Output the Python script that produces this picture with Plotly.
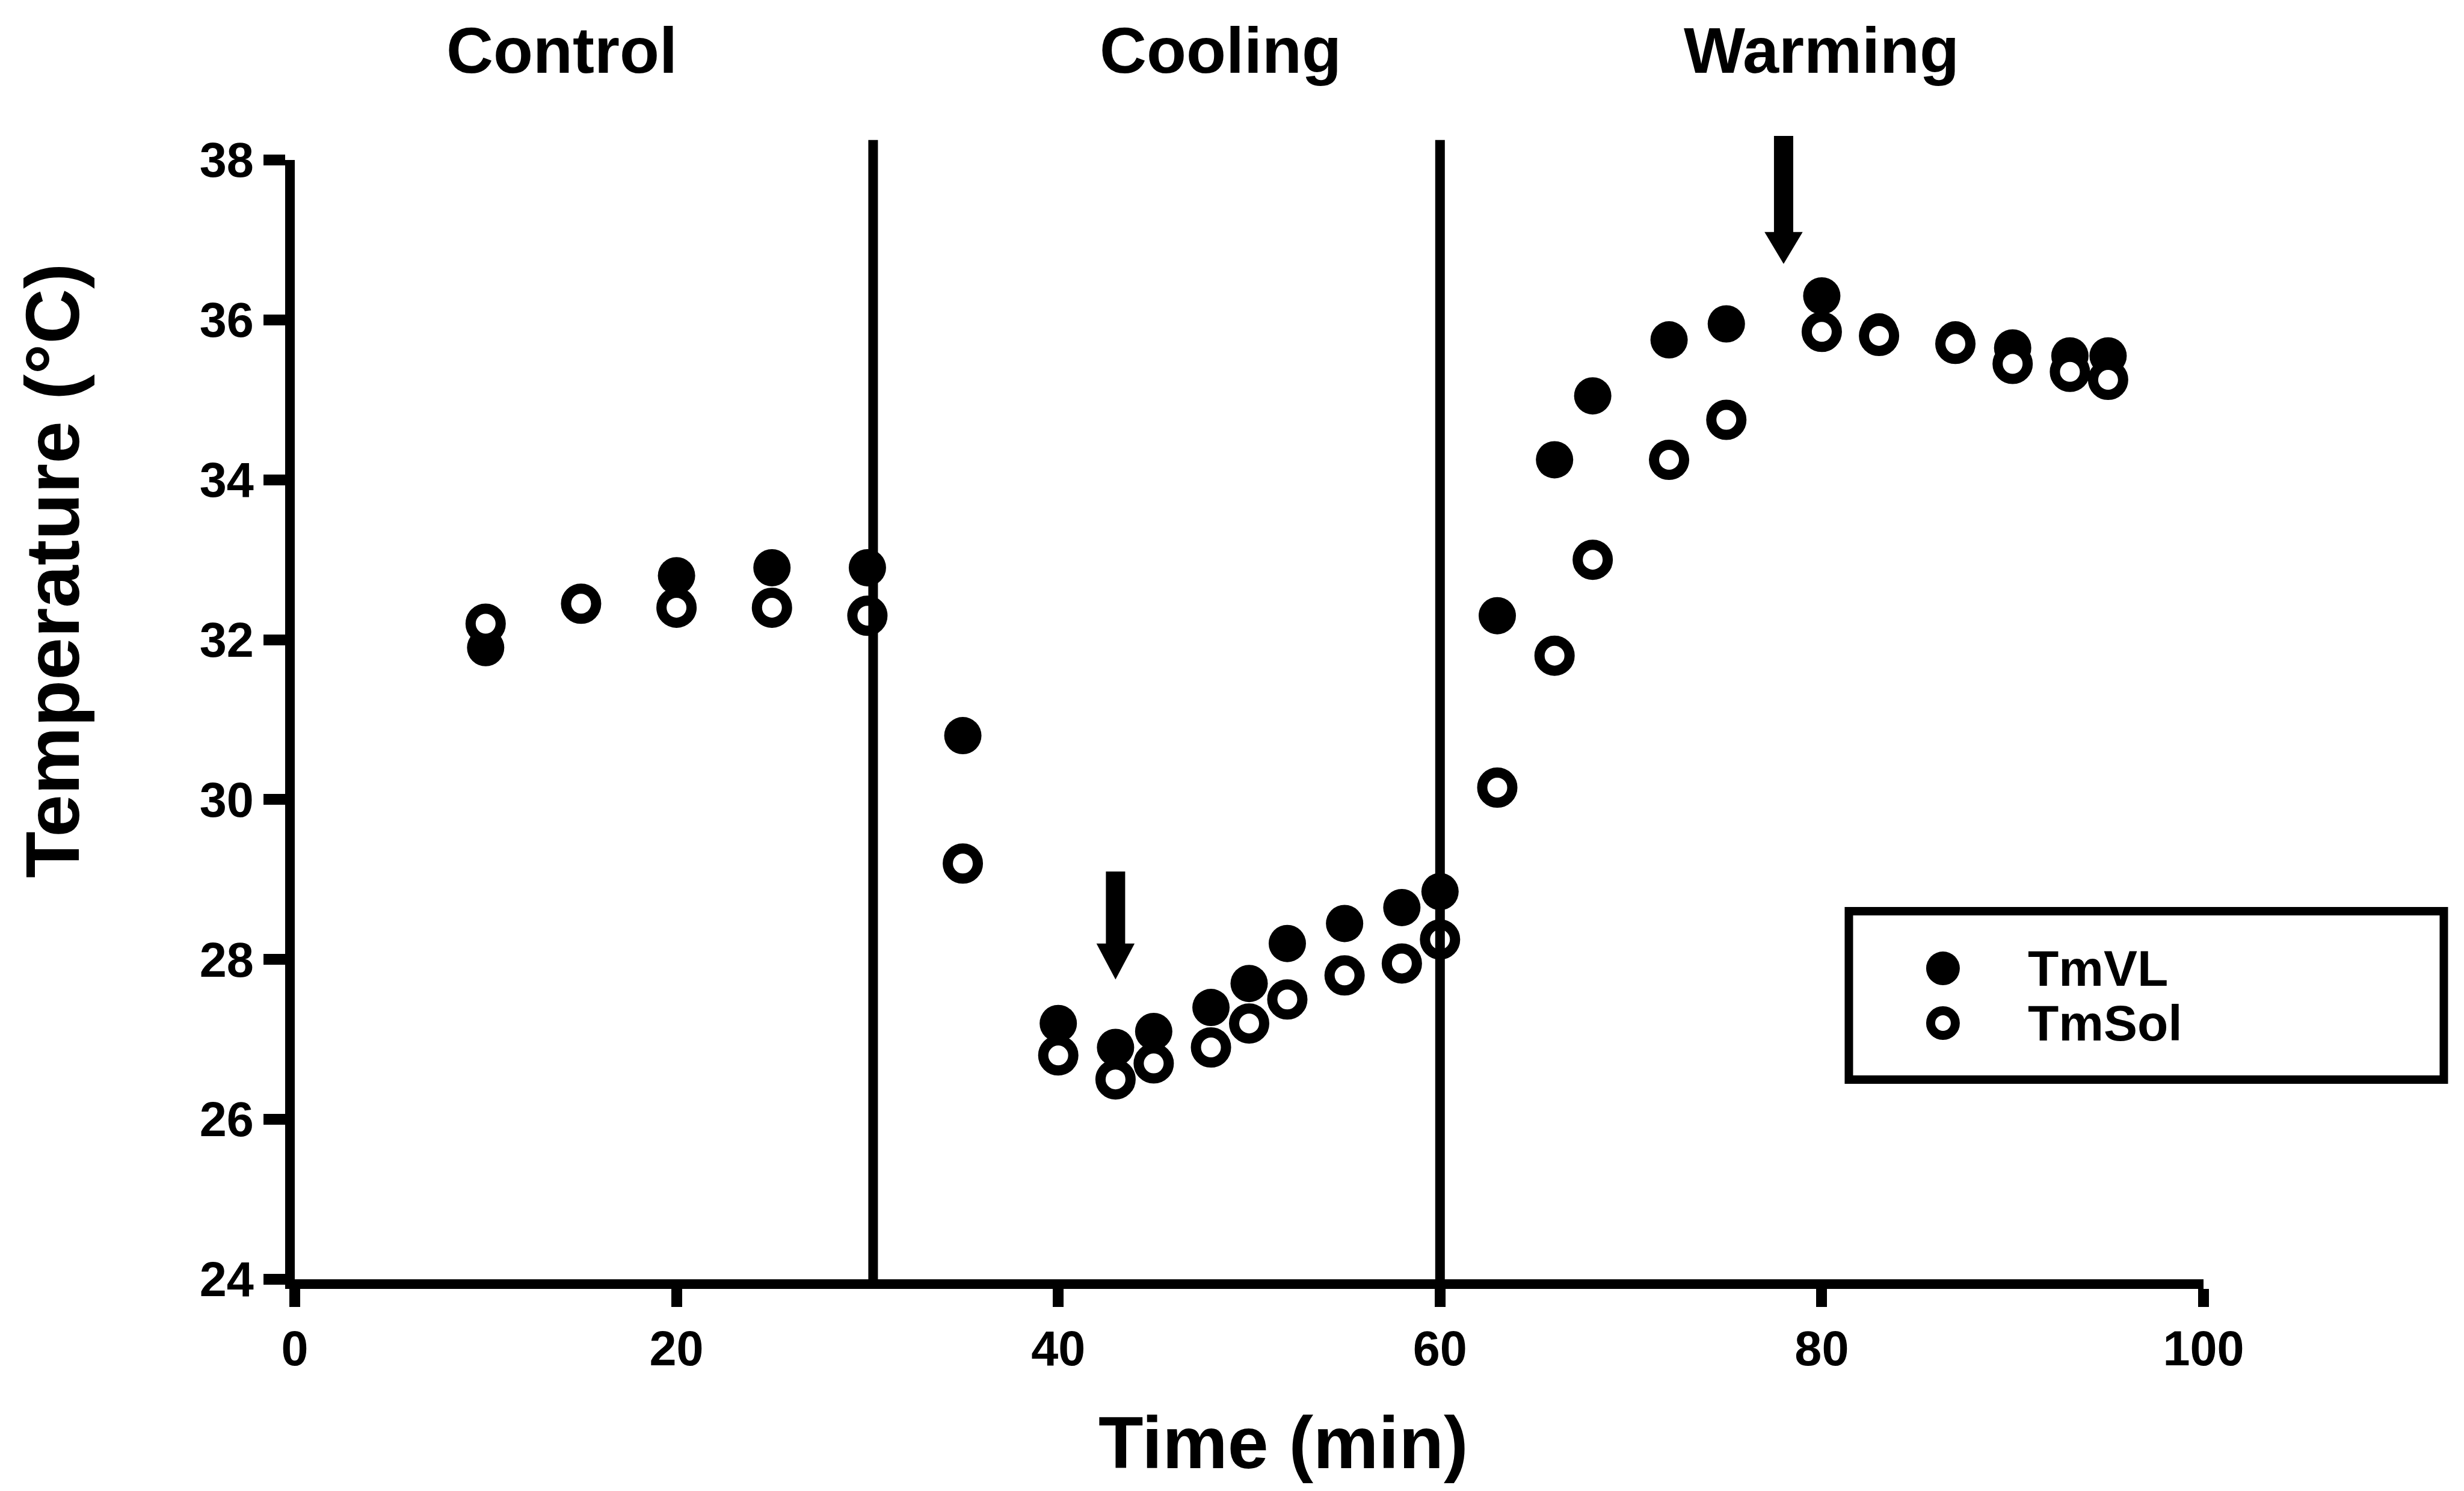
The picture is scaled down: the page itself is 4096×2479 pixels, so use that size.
import plotly.graph_objects as go

# Sampling times (min) and muscle temperatures (°C) for the two probe sites
time_min = [10, 15, 20, 25, 30, 35, 40, 43, 45, 48, 50, 52, 55, 58, 60,
            63, 66, 68, 72, 75, 80, 83, 87, 90, 93, 95]
tm_vl = [31.9, 32.45, 32.8, 32.9, 32.9, 30.8, 27.2, 26.9, 27.1, 27.4, 27.7, 28.2, 28.45, 28.65, 28.85,
         32.3, 34.25, 35.05, 35.75, 35.95, 36.3, 35.85, 35.75, 35.65, 35.55, 35.55]
tm_sol = [32.2, 32.45, 32.4, 32.4, 32.3, 29.2, 26.8, 26.5, 26.7, 26.9, 27.2, 27.5, 27.8, 27.95, 28.25,
          30.15, 31.8, 33.0, 34.25, 34.75, 35.85, 35.8, 35.7, 35.45, 35.35, 35.25]
series_names = ["TmVL", "TmSol"]

# Protocol phases
phase_names = ["Control", "Cooling", "Warming"]
phase_label_t = [14, 48.5, 80]
phase_bounds = [30.3, 60]

# Arrows marking the extreme points (time, shaft top, head base, tip)
arrow_t = [43, 78]
arrow_top = [29.1, 38.3]
arrow_head_base = [28.2, 37.1]
arrow_tip = [27.75, 36.7]

x_ticks = [0, 20, 40, 60, 80, 100]
y_ticks = [24, 26, 28, 30, 32, 34, 36, 38]
X_RANGE = [0, 100]
Y_RANGE = [24, 38]

FONT = "Liberation Sans, Arial, Helvetica, sans-serif"
LINE_W = 16


def to_paper(v):
    return (v - Y_RANGE[0]) / (Y_RANGE[1] - Y_RANGE[0])


filled_marker = dict(symbol="circle", size=62, color="black", line=dict(width=0))
open_marker = dict(symbol="circle", size=50, color="white", line=dict(color="black", width=17))

fig = go.Figure()
fig.add_trace(go.Scatter(x=time_min, y=tm_vl, mode="markers", name=series_names[0],
                         marker=filled_marker, cliponaxis=False))
fig.add_trace(go.Scatter(x=time_min, y=tm_sol, mode="markers", name=series_names[1],
                         marker=open_marker, cliponaxis=False))

# Boxed key drawn on an invisible overlay axis spanning the plot area
key_x = 0.8635
key_y = [0.2778, 0.2289]
fig.add_trace(go.Scatter(x=[key_x], y=[key_y[0]], mode="markers", xaxis="x2", yaxis="y2",
                         marker=dict(filled_marker, size=56), hoverinfo="skip"))
fig.add_trace(go.Scatter(x=[key_x], y=[key_y[1]], mode="markers", xaxis="x2", yaxis="y2",
                         marker=dict(open_marker, size=41, line=dict(color="black", width=15)),
                         hoverinfo="skip"))

shapes = []
for b in phase_bounds:
    shapes.append(dict(type="line", xref="x", yref="paper", x0=b, x1=b,
                       y0=0, y1=to_paper(38.25), layer="above",
                       line=dict(color="black", width=LINE_W)))

for t, top, base, tip in zip(arrow_t, arrow_top, arrow_head_base, arrow_tip):
    shapes.append(dict(type="line", xref="x", yref="paper", x0=t, x1=t,
                       y0=to_paper(base - 0.05), y1=to_paper(top), layer="above",
                       line=dict(color="black", width=32)))
    yb, yt = to_paper(base), to_paper(tip)
    shapes.append(dict(type="path", xref="x", yref="paper", layer="above",
                       path=f"M {t - 1.0},{yb} L {t + 1.0},{yb} L {t},{yt} Z",
                       fillcolor="black", line=dict(width=0)))

# key frame
shapes.append(dict(type="rect", xref="paper", yref="paper",
                   x0=0.8142, x1=1.1259, y0=0.1784, y1=0.3289,
                   line=dict(color="black", width=14), fillcolor="rgba(0,0,0,0)"))

annotations = []
for name, t in zip(phase_names, phase_label_t):
    annotations.append(dict(text=name, x=t, xref="x", y=1.0978, yref="paper",
                            xanchor="center", yanchor="middle", showarrow=False,
                            font=dict(family=FONT, size=108, color="black", weight="bold")))
for name, y in zip(series_names, key_y):
    annotations.append(dict(text=name, x=0.9073, xref="paper", y=y, yref="paper",
                            xanchor="left", yanchor="middle", showarrow=False,
                            font=dict(family=FONT, size=84, color="black", weight="bold")))
annotations.append(dict(text="Time (min)", x=0.518, xref="paper", y=-0.146, yref="paper",
                        xanchor="center", yanchor="middle", showarrow=False,
                        font=dict(family=FONT, size=122, color="black", weight="bold")))
annotations.append(dict(text="Temperature (°C)", x=-0.127, xref="paper", y=0.633, yref="paper",
                        xanchor="center", yanchor="middle", showarrow=False, textangle=-90,
                        font=dict(family=FONT, size=127, color="black", weight="bold")))

tick_font = dict(family=FONT, size=81, color="black", weight="bold")
fig.update_layout(
    width=4096, height=2479,
    margin=dict(l=490, r=433, t=266, b=352),
    plot_bgcolor="white", paper_bgcolor="white",
    showlegend=False,
    xaxis=dict(range=X_RANGE, tickvals=x_ticks, ticktext=[str(v) for v in x_ticks],
               showline=True, linecolor="black", linewidth=LINE_W,
               ticks="outside", ticklen=30, tickwidth=18, tickcolor="black",
               showgrid=False, zeroline=False, tickfont=tick_font),
    yaxis=dict(range=Y_RANGE, tickvals=y_ticks, ticktext=[str(v) for v in y_ticks],
               showline=True, linecolor="black", linewidth=LINE_W,
               ticks="outside", ticklen=36, tickwidth=18, tickcolor="black",
               showgrid=False, zeroline=False, tickfont=tick_font),
    xaxis2=dict(range=[0, 1], overlaying="x", visible=False),
    yaxis2=dict(range=[0, 1], overlaying="y", visible=False),
    shapes=shapes,
    annotations=annotations,
)

fig.write_html("out.html")
